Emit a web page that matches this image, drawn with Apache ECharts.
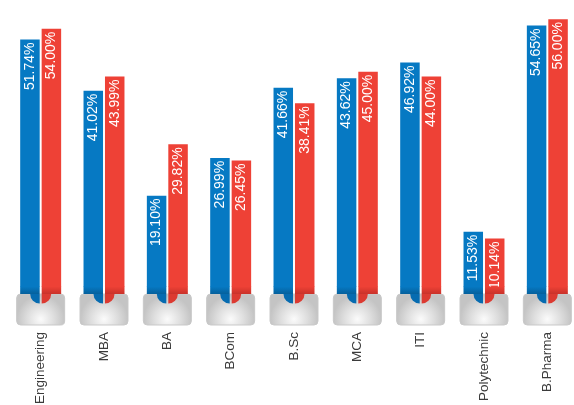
<!DOCTYPE html>
<html>
<head>
<meta charset="utf-8">
<script src="https://cdn.jsdelivr.net/npm/echarts@6/dist/echarts.min.js"></script>
<style>
  html, body { margin: 0; padding: 0; background: #fff; }
  #chart { width: 574px; height: 405px; }
</style>
</head>
<body>
<div id="chart"></div>
<script>
// Courses and their two percentage series
const categories = ['Engineering', 'MBA', 'BA', 'BCom', 'B.Sc', 'MCA', 'ITI', 'Polytechnic', 'B.Pharma'];
const seriesBlue = [51.74, 41.02, 19.10, 26.99, 41.66, 43.62, 46.92, 11.53, 54.65];
const seriesRed  = [54.00, 43.99, 29.82, 26.45, 38.41, 45.00, 44.00, 10.14, 56.00];

const BLUE = '#0679c3';
const RED = '#ee4136';
const FONT = "'Liberation Sans', Arial, sans-serif";

const chart = echarts.init(document.getElementById('chart'), null, { renderer: 'canvas' });

const valueLabel = {
  show: true,
  position: 'insideTop',
  rotate: 90,
  align: 'right',
  verticalAlign: 'middle',
  distance: 3,
  color: '#fff',
  fontFamily: FONT,
  fontSize: 14,
  formatter: p => p.value.toFixed(2) + '%'
};

// Grey pedestal under each pair of bars, with the bar colours sinking into a round notch
function renderBase(params, api) {
  const idx = api.value(0);
  const p = api.coord([idx, 0]);
  const cx = p[0];
  const y0 = p[1];
  const top = y0 + 7;
  const r = 9.5;
  return {
    type: 'group',
    children: [
      {
        type: 'rect',
        shape: { x: cx - 24, y: top, width: 48, height: 31, r: 4 },
        style: {
          fill: new echarts.graphic.RadialGradient(0.5, 0.8, 0.75, [
            { offset: 0, color: '#fbfbfb' },
            { offset: 0.55, color: '#dedede' },
            { offset: 1, color: '#c4c4c4' }
          ]),
          stroke: '#c9c9c9',
          lineWidth: 1
        }
      },
      // bar extensions down to the pedestal top
      {
        type: 'rect',
        shape: { x: cx - 20.5, y: y0 - 0.5, width: 19.5, height: top - y0 + 0.5 },
        style: { fill: new echarts.graphic.LinearGradient(0, 0, 0, 1, [
          { offset: 0, color: BLUE }, { offset: 1, color: '#05609c' }]) }
      },
      {
        type: 'rect',
        shape: { x: cx + 1, y: y0 - 0.5, width: 19.5, height: top - y0 + 0.5 },
        style: { fill: new echarts.graphic.LinearGradient(0, 0, 0, 1, [
          { offset: 0, color: RED }, { offset: 1, color: '#c9322a' }]) }
      },
      // notch halves
      {
        type: 'sector',
        shape: { cx: cx - 1, cy: top, r0: 0, r: r, startAngle: Math.PI / 2, endAngle: Math.PI },
        style: { fill: '#066bb0' }
      },
      {
        type: 'sector',
        shape: { cx: cx + 1, cy: top, r0: 0, r: r, startAngle: 0, endAngle: Math.PI / 2 },
        style: { fill: '#dc3a31' }
      }
    ]
  };
}

chart.setOption({
  animation: false,
  grid: { left: 9, width: 570, top: 0, height: 287, containLabel: false, outerBoundsMode: 'none' },
  xAxis: {
    type: 'category',
    data: categories,
    axisLine: { show: false },
    axisTick: { show: false },
    axisLabel: {
      rotate: 90,
      margin: 45,
      color: '#3b3b3b',
      fontFamily: FONT,
      fontSize: 13.5,
      interval: 0
    }
  },
  yAxis: {
    type: 'value',
    min: 0,
    max: 60,
    show: false
  },
  series: [
    {
      type: 'bar',
      data: seriesBlue,
      barWidth: 19.5,
      barGap: '10%',
      itemStyle: { color: BLUE },
      label: valueLabel
    },
    {
      type: 'bar',
      data: seriesRed,
      barWidth: 19.5,
      barGap: '10%',
      itemStyle: { color: RED },
      label: valueLabel
    },
    {
      type: 'custom',
      renderItem: renderBase,
      data: categories.map((c, i) => [i]),
      z: 5,
      silent: true
    }
  ]
});
</script>
</body>
</html>
